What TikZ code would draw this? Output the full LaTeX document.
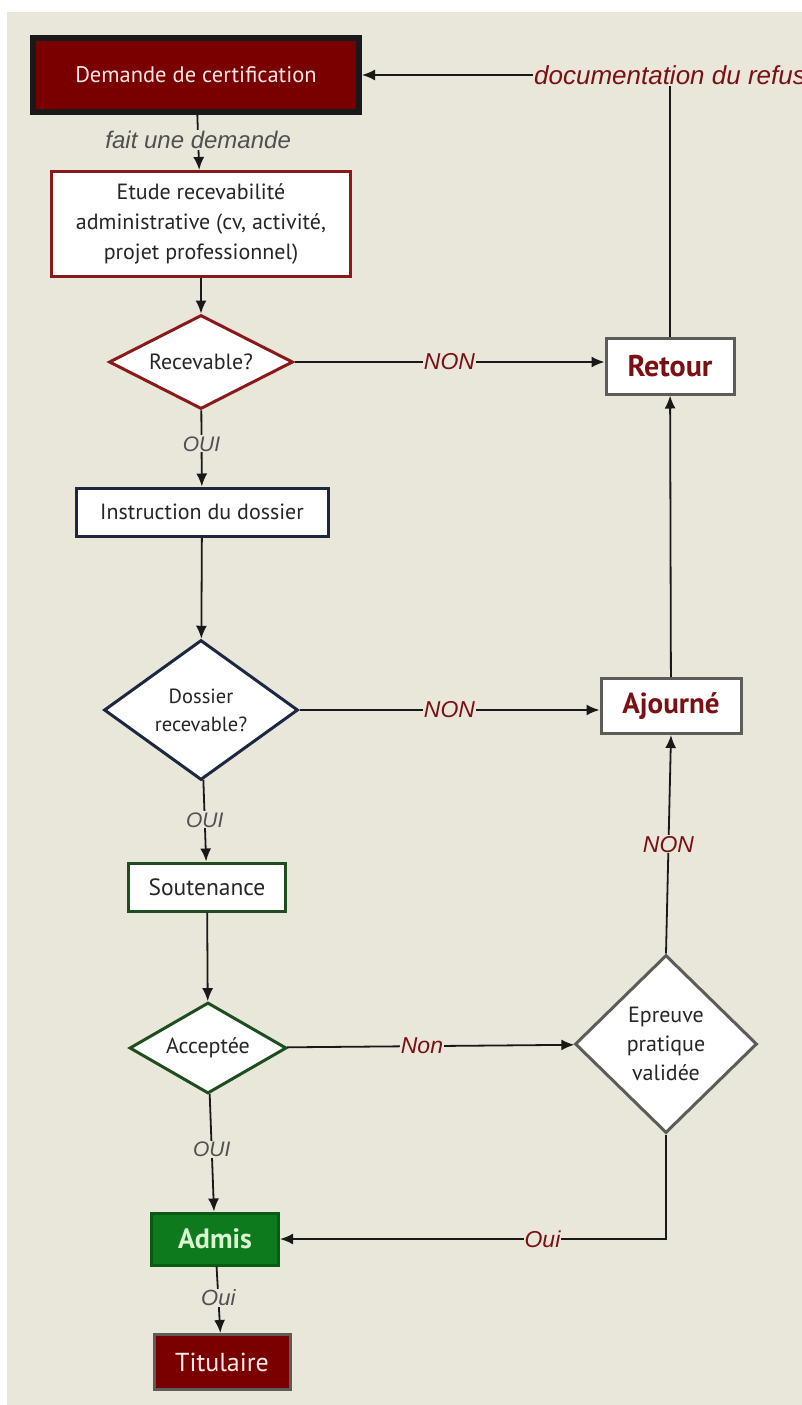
\documentclass[tikz,border=0pt]{standalone}
\usepackage{fontspec}
\setmainfont{PT Sans}
\newfontfamily\lblfont{Liberation Sans}
\usetikzlibrary{shapes.geometric,arrows.meta}
\definecolor{bg}{HTML}{E9E6DA}
\definecolor{dred}{HTML}{7A0000}
\definecolor{redline}{HTML}{8A1A1A}
\definecolor{navy}{HTML}{1C2841}
\definecolor{dgreen}{HTML}{1E4D1E}
\definecolor{grayb}{HTML}{5C5C58}
\definecolor{greenfill}{HTML}{0E7A1E}
\definecolor{greenb}{HTML}{0B5A14}
\definecolor{lgreen}{HTML}{D9F5CF}
\definecolor{lbltxt}{HTML}{505050}
\definecolor{redtxt}{HTML}{7A0F14}
\tikzset{
  box/.style={rectangle, draw, line width=3pt, fill=white, inner sep=2pt, align=center, font=\fontsize{22}{30}\selectfont, text=black!85},
  dia/.style={diamond, draw, line width=3pt, fill=white, inner sep=0pt, aspect=2, align=center, font=\fontsize{22}{28}\selectfont, text=black!85},
  arr/.style={line width=1.8pt, draw=black!90, -{Latex[length=13pt,width=11pt]}},
  glbl/.style={fill=bg, inner sep=1pt, text=lbltxt, font=\lblfont\fontsize{21}{24}\selectfont\itshape},
  rlbl/.style={fill=bg, inner sep=1pt, text=redtxt, font=\lblfont\fontsize{23}{26}\selectfont\itshape},
}
\begin{document}
\begin{tikzpicture}[x=1pt,y=-1pt]
\useasboundingbox (0,0) rectangle (802,1405);
\fill[white] (0,0) rectangle (802,1405);
\fill[bg] (7,12) rectangle (802,1405);

\node[box, fill=dred, draw=black!90, line width=6pt, minimum width=326pt, minimum height=74pt, text=white!90!red, font=\fontsize{22.5}{26}\selectfont] (dem) at (196,75) {Demande de certification};
\node[box, draw=redline, minimum width=299pt, minimum height=105pt] (etude) at (201,224) {Etude recevabilit\'e\\administrative (cv, activit\'e,\\projet professionnel)};
\node[dia, draw=redline, minimum width=184pt, minimum height=94pt] (rec) at (201,362) {Recevable?};
\node[box, draw=grayb, minimum width=128pt, minimum height=56pt, text=redtxt, font=\fontsize{30}{32}\selectfont\bfseries] (ret) at (670,366) {Retour};
\node[box, draw=navy, minimum width=252pt, minimum height=48pt] (inst) at (202,512) {Instruction du dossier};
\node[dia, draw=navy, minimum width=194pt, minimum height=140pt, font=\fontsize{20.5}{28}\selectfont] (dos) at (201,710) {Dossier\\recevable?};
\node[box, draw=grayb, minimum width=140pt, minimum height=55pt, text=redtxt, font=\fontsize{29}{32}\selectfont\bfseries] (aj) at (671,706) {Ajourn\'e};
\node[box, draw=dgreen, minimum width=157pt, minimum height=48pt, font=\fontsize{23.5}{28}\selectfont] (sout) at (207,887) {Soutenance};
\node[dia, draw=dgreen, minimum width=157pt, minimum height=91pt] (acc) at (208,1048) {Accept\'ee};
\node[dia, draw=grayb, aspect=1, minimum width=182pt, minimum height=178pt, font=\fontsize{22}{29}\selectfont] (epr) at (666,1044) {Epreuve\\pratique\\valid\'ee};
\node[box, fill=greenfill, draw=greenb, minimum width=127pt, minimum height=52pt, text=lgreen, font=\fontsize{28}{30}\selectfont\bfseries] (adm) at (215,1239) {Admis};
\node[box, fill=dred, draw=grayb, minimum width=136pt, minimum height=55pt, text=white!92!red, font=\fontsize{26}{28}\selectfont] (tit) at (222,1362) {Titulaire};

\draw[arr] (dem) -- node[glbl, pos=0.45, font=\lblfont\fontsize{24}{26}\selectfont\itshape] {fait une demande} (etude);
\draw[arr] (etude) -- (rec);
\draw[arr] (rec) -- node[rlbl, pos=0.5] {NON} (rec.east -| ret.west);
\draw[arr] (ret.north) |- node[rlbl, pos=0.5, font=\lblfont\fontsize{26}{28}\selectfont\itshape] {documentation du refus} (dem.east);
\draw[arr] (rec) -- node[glbl, pos=0.44] {OUI} (inst);
\draw[arr] (inst) -- (dos);
\draw[arr] (dos) -- node[rlbl, pos=0.5] {NON} (dos.east -| aj.west);
\draw[arr] (aj) -- (ret);
\draw[arr] (dos) -- node[glbl, pos=0.49] {OUI} (sout);
\draw[arr] (sout) -- (acc);
\draw[arr] (acc) -- node[rlbl, pos=0.47] {Non} (epr);
\draw[arr] (epr.north) -- node[rlbl, pos=0.5] {NON} (aj.south);
\draw[arr] (acc) -- node[glbl, pos=0.47] {OUI} (adm);
\draw[arr] (epr.south) |- node[rlbl, pos=0.66] {Oui} (adm.east);
\draw[arr] (adm) -- node[glbl, pos=0.47, font=\lblfont\fontsize{22}{24}\selectfont\itshape] {Oui} (tit);
\end{tikzpicture}
\end{document}
